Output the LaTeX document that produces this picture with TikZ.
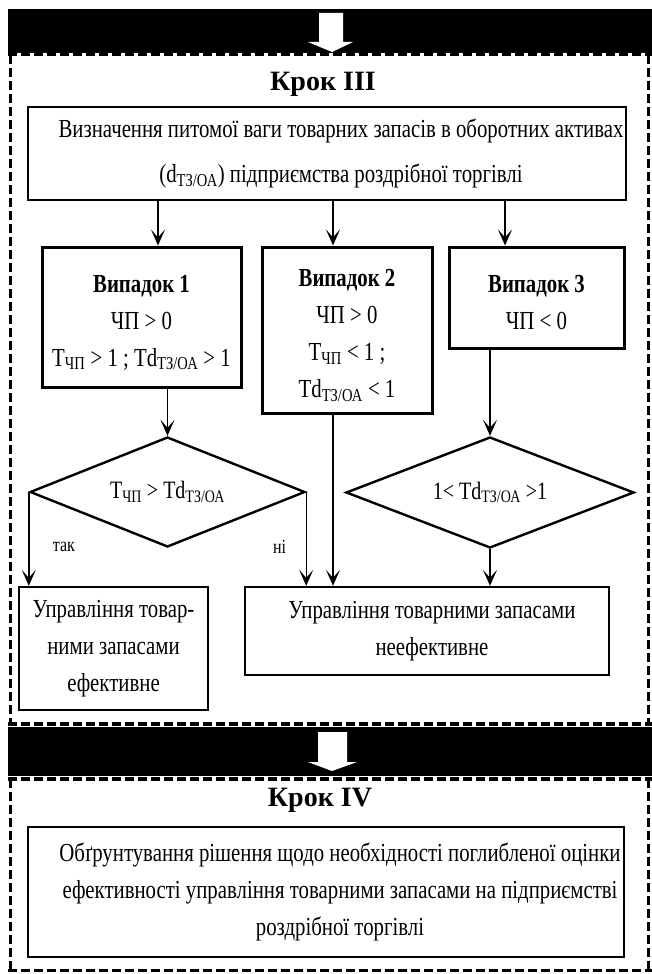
\documentclass[tikz,border=0pt]{standalone}
\usepackage{fontspec}
\setmainfont{Liberation Serif}[FakeStretch=0.8]
\newfontfamily\hdfont{Liberation Serif}
\usetikzlibrary{arrows.meta,shapes.geometric}
\newcommand{\ind}{\hspace*{28pt}}
\newcommand{\upstrut}{\rule{0pt}{28pt}}
\begin{document}
\begin{tikzpicture}[x=1pt,y=-1pt,
 frame/.style={line width=3pt, dash pattern=on 9pt off 4pt},
 edge/.style={line width=4pt, dash pattern=on 9pt off 4pt},
 box/.style={draw, line width=2.6pt, inner sep=0pt, align=center, font=\fontsize{26}{37}\selectfont},
 casebox/.style={box, line width=3pt},
 dia/.style={draw, diamond, line width=2.4pt, inner sep=0pt, aspect=2.5, font=\fontsize{25}{28}\selectfont},
 arr/.style={line width=1.4pt, -{Stealth[length=16pt,width=14pt,inset=8pt]}},
 lbl/.style={font=\fontsize{20}{22}\selectfont},
 head/.style={font=\hdfont\bfseries\fontsize{28}{30}\selectfont},
 blk/.style={fill=white, draw=none}
]
\useasboundingbox (0,0) rectangle (652,974);
\fill[white] (0,0) rectangle (652,974);
% bands
\fill[black] (8,9) rectangle (652,53);
\draw[edge] (8,54) -- (652,54);
\fill[black] (8,727) rectangle (652,776);
\draw[edge] (8,724) -- (652,724);
\draw[edge] (8,779) -- (652,779);
% frames
\draw[frame] (10,55) -- (10,724);
\draw[frame] (648,55) -- (648,724);
\draw[frame] (10,779) -- (10,970);
\draw[frame] (648,779) -- (648,970);
\draw[frame] (8,970) -- (652,970);
% block arrows
\fill[blk] (319,13) -- (343,13) -- (343,42) -- (353,42) -- (332,52) -- (308,42) -- (319,42) -- cycle;
\fill[blk] (318,732) -- (347,732) -- (347,762) -- (357,762) -- (332,771) -- (308,762) -- (318,762) -- cycle;
% titles
\node[head] (t3) at (323,84) {Крок III};
\node[head] (t4) at (320,800) {Крок IV};
% boxes
\node[box, font=\fontsize{26}{45}\selectfont, minimum width=598pt, minimum height=93pt] (A) at (327,153.5)
 {\ind Визначення питомої ваги товарних запасів в оборотних активах\\\ind(d\textsubscript{ТЗ/ОА}) підприємства роздрібної торгівлі};
\node[casebox, minimum width=199pt, minimum height=140pt] (C1) at (141.5,317)
 {\upstrut\textbf{Випадок 1}\\ЧП > 0\\Т\textsubscript{ЧП} > 1 ; Td\textsubscript{ТЗ/ОА} > 1};
\node[casebox, minimum width=170pt, minimum height=166pt] (C2) at (347,330)
 {\upstrut\textbf{Випадок 2}\\ЧП > 0\\Т\textsubscript{ЧП} < 1 ;\\Td\textsubscript{ТЗ/ОА} < 1};
\node[casebox, minimum width=175pt, minimum height=101pt] (C3) at (536.5,297.5)
 {\upstrut\textbf{Випадок 3}\\ЧП < 0};
\node[dia, minimum width=275pt, minimum height=110pt] (D1) at (167.5,492)
 {Т\textsubscript{ЧП} > Td\textsubscript{ТЗ/ОА}};
\node[dia, minimum width=288pt, minimum height=111pt] (D2) at (490,492.5)
 {1< Td\textsubscript{ТЗ/ОА} >1};
\node[box, line width=2.3pt, minimum width=189pt, minimum height=123pt] (E) at (113.5,648.5)
 {Управління товар-\\ними запасами\\ефективне};
\node[box, line width=2.3pt, minimum width=364pt, minimum height=88pt] (N) at (427,631)
 {\hspace*{10pt}Управління товарними запасами\\\hspace*{10pt}неефективне};
\node[box, line width=2.3pt, minimum width=596pt, minimum height=130pt] (R) at (326,892)
 {\ind Обґрунтування рішення щодо необхідності поглибленої оцінки\\\ind ефективності управління товарними запасами на підприємстві\\\ind роздрібної торгівлі};
% helper x coordinates
\coordinate (x1) at (158,0);
\coordinate (x2) at (333,0);
\coordinate (x3) at (505,0);
% connectors
\draw[arr] (A.south -| x1) -- (C1.north -| x1);
\draw[arr] (A.south -| x2) -- (C2.north -| x2);
\draw[arr] (A.south -| x3) -- (C3.north -| x3);
\draw[arr] (C1.south -| D1.north) -- (D1.north);
\draw[arr] (C3.south -| D2.north) -- (D2.north);
\draw[arr] (C2.south -| x2) -- (N.north -| x2);
\draw[arr] (D1.west) -- (E.north -| D1.west) node[lbl, pos=0.58, right=20pt] (yes) {так};
\draw[arr] (D1.east) -- (N.north -| D1.east) node[lbl, pos=0.58, left=16pt] (no) {ні};
\draw[arr] (D2.south) -- (N.north -| D2.south);
\end{tikzpicture}
\end{document}
